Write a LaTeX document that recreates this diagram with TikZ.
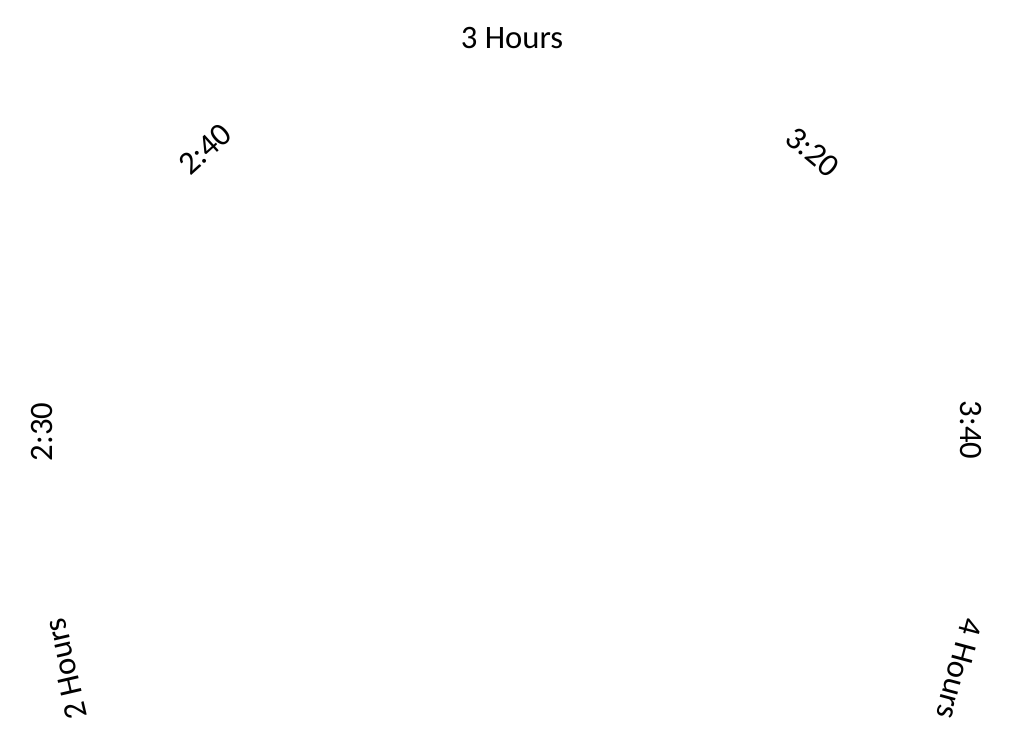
\documentclass[tikz,border=0pt]{standalone}
\usepackage{fontspec}
\setmainfont{Carlito}
\begin{document}
\begin{tikzpicture}[dial/.style={inner sep=0pt,font=\fontsize{9.3}{11}\selectfont}]
      \useasboundingbox (0,0) rectangle (10.2,7.44);
      \node[dial] (top) at (5.12,7.06) {3 Hours};
      \foreach \nm/\x/\y/\ang/\txt in {twoh/0.66/0.75/103/2 Hours, half/0.42/3.12/90/2:30,
          forty/2.05/5.95/42/2:40, twenty/8.13/5.92/-40/3:20,
          fortyb/9.71/3.14/-90/3:40, fourh/9.59/0.75/-105/4 Hours}
        \node[dial,rotate=\ang] (\nm) at (\x,\y) {\txt};
    \end{tikzpicture}
\end{document}
